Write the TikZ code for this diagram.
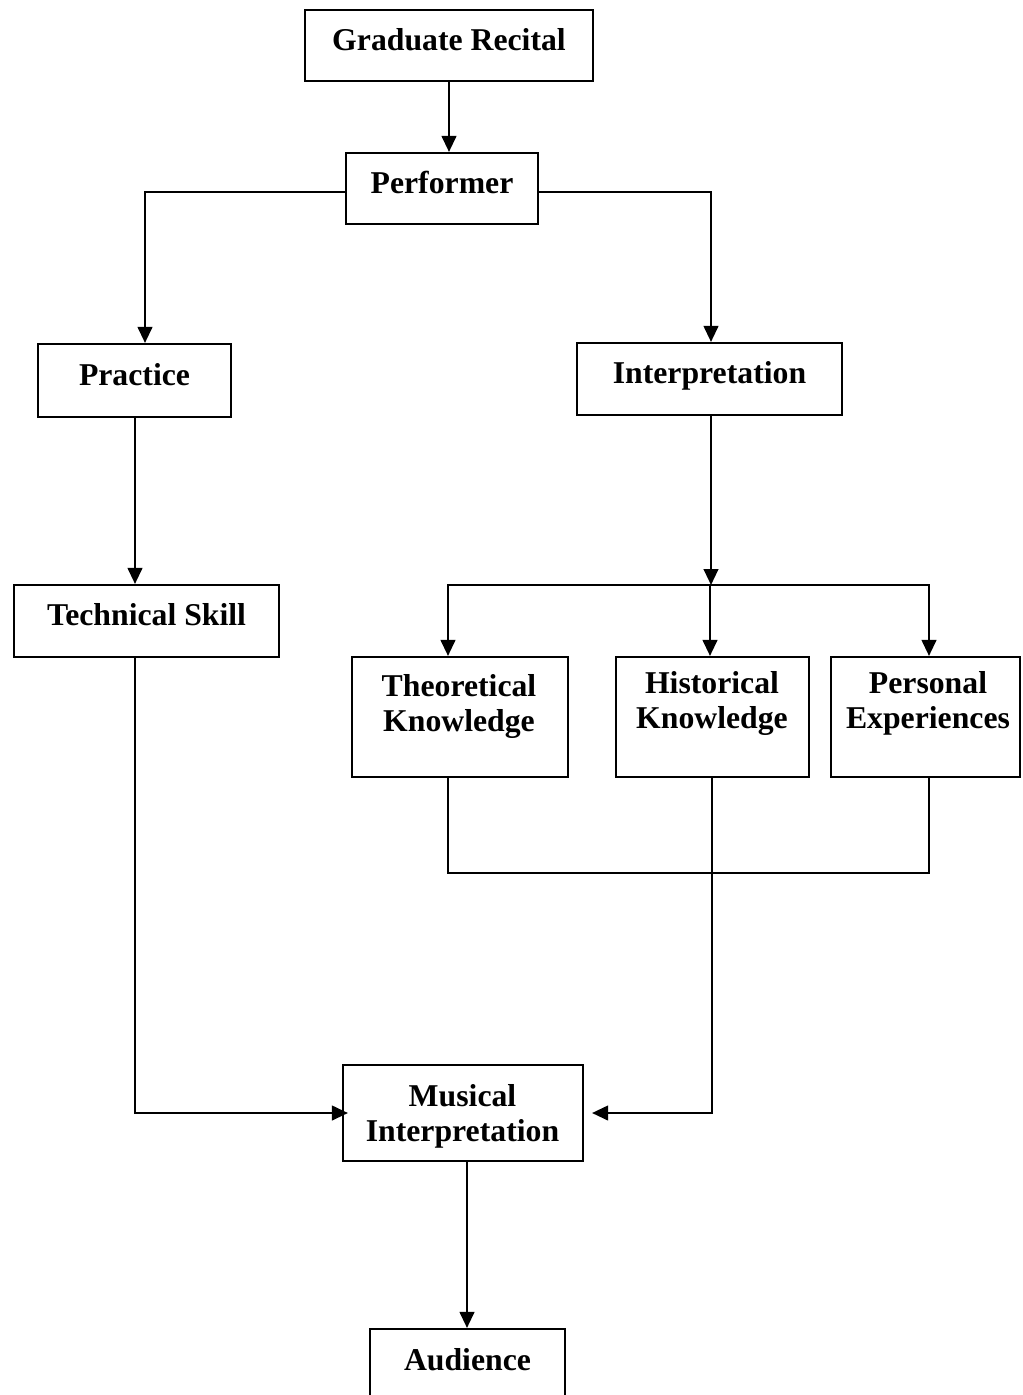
\documentclass[tikz,border=0pt]{standalone}
\usepackage{fontspec}
\setmainfont{Liberation Serif}
\usetikzlibrary{arrows.meta,fit}
\begin{document}
\begin{tikzpicture}[x=0.75pt,y=-0.75pt,
  box/.style={draw,line width=1.6pt,inner sep=0pt},
  lbl/.style={font=\bfseries\fontsize{23.8pt}{26pt}\selectfont,align=center,inner sep=0pt,anchor=base},
  arr/.style={line width=1.6pt,-{Triangle[length=12pt,width=11pt]}},
  ln/.style={line width=1.6pt}]
\clip (0,0) rectangle (1022,1395);
\fill[white] (0,0) rectangle (1022,1395);
% boxes
\node[box,fit={(305,10)(593,81)}] (grad) {};
\node[box,fit={(346,153)(538,224)}] (perf) {};
\node[box,fit={(38,344)(231,417)}] (prac) {};
\node[box,fit={(577,343)(842,415)}] (interp) {};
\node[box,fit={(14,585)(279,657)}] (tech) {};
\node[box,fit={(352,657)(568,777)}] (theo) {};
\node[box,fit={(616,657)(809,777)}] (hist) {};
\node[box,fit={(831,657)(1020,777)}] (pers) {};
\node[box,fit={(343,1065)(583,1161)}] (mus) {};
\node[box,fit={(370,1329)(565,1420)}] (aud) {};
% texts (base anchor = last line)
\node[lbl] (gradT) at (449,51) {Graduate Recital};
\node[lbl] (perfT) at (442,193) {Performer};
\node[lbl] (pracT) at (134.5,385) {Practice};
\node[lbl] (interpT) at (709.5,383) {Interpretation};
\node[lbl] (techT) at (146.5,625) {Technical Skill};
\node[lbl] (theoT) at (459,731) {Theoretical\\Knowledge};
\node[lbl] (histT) at (712,728) {Historical\\Knowledge};
\node[lbl] (persT) at (928,728) {Personal\\Experiences};
\node[lbl] (musT) at (462.5,1141) {Musical\\Interpretation};
\node[lbl] (audT) at (467.5,1370) {Audience};
% helper coordinates
\coordinate (pL) at (145,192);
\coordinate (pR) at (711,192);
\coordinate (cP) at (135,0);
\coordinate (J) at (711,585);
\coordinate (cA) at (448,0);
\coordinate (cB) at (710,0);
\coordinate (cC) at (929,0);
\coordinate (K) at (712,873);
\coordinate (cM) at (467,0);
% connectors
\draw[arr] (grad.south) -- (grad.south |- perf.north);
\draw[arr] (perf.west |- pL) -| (prac.north -| pL);
\draw[arr] (perf.east |- pR) -| (interp.north -| pR);
\draw[arr] (prac.south -| cP) -- (tech.north -| cP);
\draw[arr] (interp.south -| J) -- (J);
\draw[arr] (J) -| (theo.north -| cA);
\draw[arr] (J) -| (hist.north -| cB);
\draw[arr] (J) -| (pers.north -| cC);
\draw[ln] (theo.south -| cA) |- (K);
\draw[ln] (pers.south -| cC) |- (K);
\draw[arr,shorten >=6pt] (hist.south -| K) |- (mus.east);
\draw[arr,shorten >=-4.5pt] (tech.south -| cP) |- (mus.west);
\draw[arr] (mus.south -| cM) -- (aud.north -| cM);
\end{tikzpicture}
\end{document}
